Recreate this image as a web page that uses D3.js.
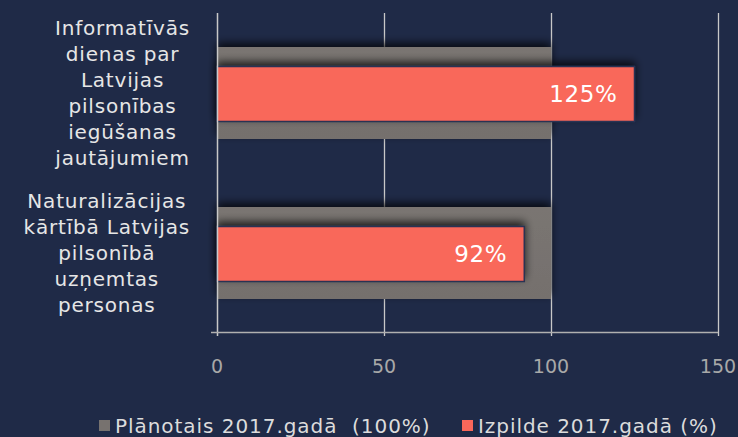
<!DOCTYPE html>
<html><head><meta charset="utf-8">
<script src="https://cdn.jsdelivr.net/npm/d3@7"></script>
<style>body{margin:0;background:#1F2A47;}svg{display:block;}</style>
</head><body>
<svg id="chart" width="738" height="437"></svg>
<script>
const categories = [
  ["Informatīvās","dienas par","Latvijas","pilsonības","iegūšanas","jautājumiem"],
  ["Naturalizācijas","kārtībā Latvijas","pilsonībā","uzņemtas","personas"]
];
const planned = [100, 100];
const actual = [125, 92];
const actualLabels = ["125%", "92%"];
const ticks = [0, 50, 100, 150];
const legendLabels = ["Plānotais 2017.gadā  (100%)", "Izpilde 2017.gadā (%)"];

const svg = d3.select("#chart");
const font = "DejaVu Sans, Verdana, sans-serif";
const x = d3.scaleLinear().domain([0,150]).range([217,718]);
const y = d3.scaleBand().domain([0,1]).range([13,333]);

const defs = svg.append("defs");
const f = defs.append("filter").attr("id","sh").attr("x","-10%").attr("y","-40%").attr("width","120%").attr("height","180%");
f.append("feDropShadow").attr("dx",0).attr("dy",-4).attr("stdDeviation",4).attr("flood-color","#000").attr("flood-opacity",0.75);
const g1 = defs.append("linearGradient").attr("id","gg").attr("x1",0).attr("y1",0).attr("x2",0).attr("y2",1);
g1.append("stop").attr("offset","0%").attr("stop-color","#7a7572");
g1.append("stop").attr("offset","100%").attr("stop-color","#75706d");

// gridlines
svg.append("g").selectAll("line").data(ticks.slice(1)).join("line")
  .attr("x1",d=>x(d)+0.5).attr("x2",d=>x(d)+0.5).attr("y1",13).attr("y2",336)
  .attr("stroke","#c8c8c8").attr("stroke-width",1.3);

// planned bars
const gh = 92, rh = 55;
svg.append("g").selectAll("rect").data(planned).join("rect")
  .attr("x",x(0)).attr("width",d=>x(d)-x(0))
  .attr("y",(d,i)=>y(i)+y.bandwidth()/2-gh/2).attr("height",gh)
  .attr("fill","url(#gg)").attr("filter","url(#sh)");

// actual bars
svg.append("g").selectAll("rect").data(actual).join("rect")
  .attr("x",x(0)).attr("width",d=>x(d)-x(0))
  .attr("y",(d,i)=>y(i)+y.bandwidth()/2-rh/2+1).attr("height",rh)
  .attr("fill","#F9675A").attr("stroke","#2a3252").attr("stroke-width",1.5)
  .attr("filter","url(#sh)");

svg.append("g").selectAll("text").data(actual).join("text")
  .attr("x",d=>x(d)-17).attr("y",(d,i)=>y(i)+y.bandwidth()/2+1)
  .attr("dy","0.36em").attr("text-anchor","end")
  .attr("font-family",font).attr("font-size",23).attr("letter-spacing",0.6).attr("fill","#ffffff")
  .text((d,i)=>actualLabels[i]);

// y axis line
svg.append("line").attr("x1",217.5).attr("x2",217.5).attr("y1",13).attr("y2",336)
  .attr("stroke","#c8c8c8").attr("stroke-width",1.5);
// x axis line
svg.append("line").attr("x1",211).attr("x2",718).attr("y1",332.5).attr("y2",332.5)
  .attr("stroke","#b0b0b0").attr("stroke-width",1.3);

// tick labels
svg.append("g").selectAll("text").data(ticks).join("text")
  .attr("x",d=>x(d)).attr("y",373).attr("text-anchor","middle")
  .attr("font-family",font).attr("font-size",19).attr("fill","#a8a8a8")
  .text(d=>d);

// category labels: lines centred within a block right-aligned at x=190
categories.forEach((lines,i)=>{
  const n = lines.length, lh = 26.1;
  const cy = y(i)+y.bandwidth()/2;
  const t = svg.append("text").attr("text-anchor","middle")
    .attr("font-family",font).attr("font-size",20).attr("letter-spacing",0.8).attr("fill","#e6e6e6");
  const spans = lines.map((l,j)=>t.append("tspan").attr("y",cy-(n-1)*lh/2+j*lh+7).text(l));
  const maxW = d3.max(spans, s=>s.node().getComputedTextLength());
  spans.forEach(s=>s.attr("x",190-maxW/2));
});

// legend
const leg = [{c:"#77726F",x:99,tx:115},{c:"#F9675A",x:462,tx:478}];
leg.forEach((d,i)=>{
  svg.append("rect").attr("x",d.x).attr("y",420).attr("width",11).attr("height",11).attr("fill",d.c);
  svg.append("text").attr("x",d.tx).attr("y",433).attr("font-family",font).attr("font-size",20)
    .attr("letter-spacing",0.95)
    .attr("fill","#dcdcdc").attr("xml:space","preserve").style("white-space","pre").text(legendLabels[i]);
});
</script>
</body></html>
